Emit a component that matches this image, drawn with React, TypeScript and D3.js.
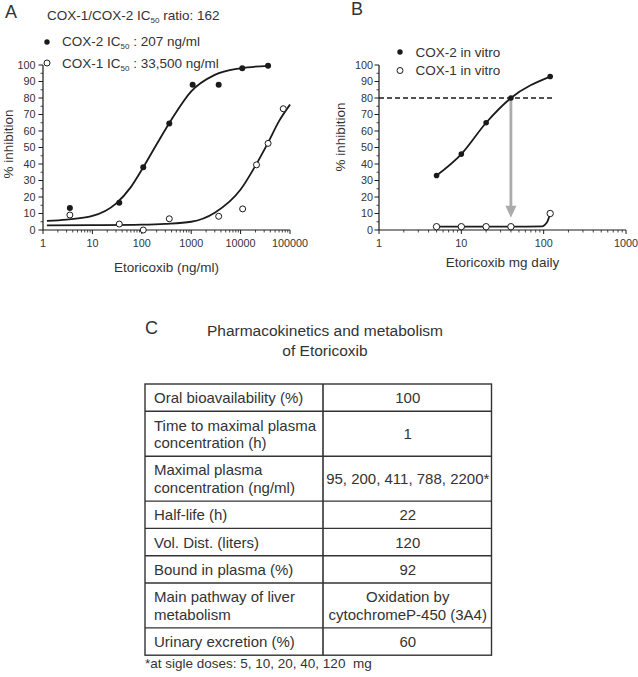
import React from "react";
import * as d3 from "d3";

// ---------- Data ----------
// Panel A (in vitro, ng/ml)
const cox2A_x = [3.5, 35, 107, 360, 1070, 3600, 10800, 36000];
const cox2A_y = [13.3, 16.5, 38, 64.5, 88, 88, 98, 99.5];
const cox1A_x = [3.5, 35, 107, 360, 3600, 11000, 21000, 36000, 73000];
const cox1A_y = [9.1, 3.6, 0, 6.8, 8.3, 12.8, 39.5, 52.5, 73.5];
// fitted curves
const cox2A_curve: [number, number][] = [
  [1.2, 5.5], [3, 6.3], [10, 8.5], [30, 16], [60, 26], [100, 36.5], [200, 52],
  [400, 67], [1000, 84], [3000, 94], [10000, 98], [36000, 99.5],
];
const cox1A_curve: [number, number][] = [
  [1.2, 2.8], [10, 2.9], [100, 3.2], [300, 3.7], [1000, 5], [3000, 10.5],
  [10000, 24.5], [20000, 39], [36000, 53], [60000, 66], [100000, 76],
];
// Panel B (mg daily)
const dosesB = [5, 10, 20, 40, 120];
const cox2B = [33, 46, 65, 80, 93];
const cox1B = [2, 2, 2, 2, 10];
const cox1B_curve: [number, number][] = [
  [5, 2], [10, 2], [20, 2], [40, 2], [96, 2.2], [104, 3.2], [112, 5.6], [120, 10],
];
const thresholdB = 80;
const arrowDoseB = 40;
const yTicks = [0, 10, 20, 30, 40, 50, 60, 70, 80, 90, 100];
const xTicksA = [1, 10, 100, 1000, 10000, 100000];
const xTicksB = [1, 10, 100, 1000];

// Panel C table
const tableLabels = [
  ["Oral bioavailability (%)"],
  ["Time to maximal plasma", "concentration (h)"],
  ["Maximal plasma", "concentration (ng/ml)"],
  ["Half-life (h)"],
  ["Vol. Dist. (liters)"],
  ["Bound in plasma (%)"],
  ["Main pathway of liver", "metabolism"],
  ["Urinary excretion (%)"],
];
const tableValues = [
  ["100"],
  ["1"],
  ["95, 200, 411, 788, 2200*"],
  ["22"],
  ["120"],
  ["92"],
  ["Oxidation by", "cytochromeP-450 (3A4)"],
  ["60"],
];

const FONT = "'Liberation Sans', Arial, Helvetica, sans-serif";
const INK = "#1a1a1a";

function minorTicks(lo: number, hi: number): number[] {
  const out: number[] = [];
  for (let d = lo; d < hi; d *= 10) {
    for (let k = 2; k <= 9; k++) out.push(d * k);
  }
  return out;
}

function Panel(props: {
  x: d3.ScaleLogarithmic<number, number>;
  y: d3.ScaleLinear<number, number>;
  xTicks: number[];
  labelRight: number;
  yLabelX: number;
  yLabelY: number;
  xLabel: string;
  xLabelY: number;
}) {
  const { x, y, xTicks } = props;
  const [x0, x1] = x.range();
  const y0 = y(0);
  const minors = minorTicks(xTicks[0], xTicks[xTicks.length - 1]);
  const yMinor = d3.range(5, 100, 10);
  return (
    <g>
      <line x1={x0} x2={x0} y1={y(0)} y2={y(100)} stroke={INK} strokeWidth={1.2} />
      <line x1={x0} x2={x1} y1={y0} y2={y0} stroke={INK} strokeWidth={1.2} />
      {yTicks.map((t) => (
        <g key={"y" + t}>
          <line x1={x0 - 4.5} x2={x0} y1={y(t)} y2={y(t)} stroke={INK} strokeWidth={1} />
          <text x={props.labelRight} y={y(t) + 3.8} textAnchor="end" fontSize={10.8} fill="#333" fontFamily={FONT}>
            {t}
          </text>
        </g>
      ))}
      {yMinor.map((t) => (
        <line key={"ym" + t} x1={x0 - 2.5} x2={x0} y1={y(t)} y2={y(t)} stroke={INK} strokeWidth={0.8} />
      ))}
      {xTicks.map((t) => (
        <g key={"x" + t}>
          <line x1={x(t)} x2={x(t)} y1={y0} y2={y0 + 4} stroke={INK} strokeWidth={1} />
          <text x={x(t)} y={y0 + 17} textAnchor="middle" fontSize={10.8} fill="#333" fontFamily={FONT}>
            {t}
          </text>
        </g>
      ))}
      {minors.map((t) => (
        <line key={"xm" + t} x1={x(t)} x2={x(t)} y1={y0} y2={y0 + 2.5} stroke={INK} strokeWidth={0.8} />
      ))}
      <text
        transform={`translate(${props.yLabelX},${props.yLabelY}) rotate(-90)`}
        textAnchor="middle"
        fontSize={13.5}
        fill="#333"
        fontFamily={FONT}
      >
        % inhibition
      </text>
      <text x={(x0 + x1) / 2} y={props.xLabelY} textAnchor="middle" fontSize={13.5} fill="#333" fontFamily={FONT}>
        {props.xLabel}
      </text>
    </g>
  );
}

function Sub(props: { pre: string; post: string; x: number; y: number }) {
  return (
    <text x={props.x} y={props.y} fontSize={13.5} fill="#333" fontFamily={FONT}>
      {props.pre}
      <tspan fontSize={8} dy={3}>50</tspan>
      <tspan dy={-3}>{props.post}</tspan>
    </text>
  );
}

export default function App() {
  const yA = d3.scaleLinear().domain([0, 100]).range([230, 65]);
  const xA = d3.scaleLog().domain([1, 100000]).range([43, 290]);
  const xB = d3.scaleLog().domain([1, 1000]).range([379, 626]);
  const yB = yA;

  const lineA = d3
    .line<[number, number]>()
    .x((d) => xA(d[0]))
    .y((d) => yA(d[1]))
    .curve(d3.curveMonotoneX);
  const lineB = d3
    .line<[number, number]>()
    .x((d) => xB(d[0]))
    .y((d) => yB(d[1]))
    .curve(d3.curveMonotoneX);

  const cox2Bpts: [number, number][] = dosesB.map((d, i) => [d, cox2B[i]]);

  // table layout
  const tLeft = 145, tRight = 491.5, tMid = 323, tTop = 384;
  const rowH = (n: number) => (n > 1 ? 44.9 : 27.3);
  let acc = tTop;
  const rows = tableLabels.map((lab, i) => {
    const n = Math.max(lab.length, tableValues[i].length);
    const top = acc;
    const h = rowH(n);
    acc += h;
    return { top, h, lab, val: tableValues[i] };
  });
  const tBottom = acc;

  const lines = (arr: string[], cx: number, top: number, h: number, anchor: "start" | "middle") => {
    const c = top + h / 2;
    return arr.map((s, j) => (
      <text
        key={j}
        x={cx}
        y={c + 5.5 + (j - (arr.length - 1) / 2) * 17.5}
        textAnchor={anchor}
        fontSize={15}
        fill="#333"
        fontFamily={FONT}
      >
        {s}
      </text>
    ));
  };

  const arrowX = xB(arrowDoseB);
  const arrowTop = yB(thresholdB) + 2;
  const arrowTip = yB(7.5);

  return (
    <svg
      width={638}
      height={677}
      style={{ position: "absolute", left: 0, top: 0, background: "#fff" }}
      fontFamily={FONT}
    >
      <rect width={638} height={677} fill="#fff" />
      {/* Panel A */}
      <text x={5} y={18} fontSize={18} fill="#333">A</text>
      <Sub pre="COX-1/COX-2 IC" post=" ratio: 162" x={47} y={19.5} />
      <circle cx={47} cy={42} r={2.7} fill={INK} />
      <Sub pre="COX-2 IC" post=" : 207 ng/ml" x={62} y={46} />
      <circle cx={47} cy={63} r={3} fill="#fff" stroke={INK} strokeWidth={1} />
      <Sub pre="COX-1 IC" post=" : 33,500 ng/ml" x={62} y={68} />
      <Panel x={xA} y={yA} xTicks={xTicksA} labelRight={35.5} yLabelX={13} yLabelY={144} xLabel="Etoricoxib (ng/ml)" xLabelY={271.5} />
      <path d={lineA(cox2A_curve) || ""} fill="none" stroke={INK} strokeWidth={1.8} />
      <path d={lineA(cox1A_curve) || ""} fill="none" stroke={INK} strokeWidth={1.8} />
      {cox2A_x.map((v, i) => (
        <circle key={"a2" + i} cx={xA(v)} cy={yA(cox2A_y[i])} r={3} fill={INK} />
      ))}
      {cox1A_x.map((v, i) => (
        <circle key={"a1" + i} cx={xA(v)} cy={yA(cox1A_y[i])} r={3} fill="#fff" stroke={INK} strokeWidth={1} />
      ))}

      {/* Panel B */}
      <text x={351} y={15} fontSize={18} fill="#333">B</text>
      <circle cx={400} cy={52} r={2.7} fill={INK} />
      <text x={415.5} y={56.5} fontSize={13.5} fill="#333">COX-2 in vitro</text>
      <circle cx={400} cy={70.5} r={3} fill="#fff" stroke={INK} strokeWidth={1} />
      <text x={415.5} y={75} fontSize={13.5} fill="#333">COX-1 in vitro</text>
      <Panel x={xB} y={yB} xTicks={xTicksB} labelRight={373} yLabelX={345} yLabelY={137} xLabel="Etoricoxib mg daily" xLabelY={266.5} />
      <line x1={xB(1)} x2={553} y1={yB(thresholdB)} y2={yB(thresholdB)} stroke={INK} strokeWidth={1.6} strokeDasharray="5,3" />
      <line x1={arrowX} x2={arrowX} y1={arrowTop} y2={arrowTip - 10} stroke="#ababab" strokeWidth={2.8} />
      <path
        d={`M${arrowX - 5.5},${arrowTip - 12} L${arrowX + 5.5},${arrowTip - 12} L${arrowX},${arrowTip} Z`}
        fill="#ababab"
      />
      <path d={lineB(cox2Bpts) || ""} fill="none" stroke={INK} strokeWidth={1.8} />
      <path d={lineB(cox1B_curve) || ""} fill="none" stroke={INK} strokeWidth={1.8} />
      {dosesB.map((d, i) => (
        <circle key={"b2" + i} cx={xB(d)} cy={yB(cox2B[i])} r={2.8} fill={INK} />
      ))}
      {dosesB.map((d, i) => (
        <circle key={"b1" + i} cx={xB(d)} cy={yB(cox1B[i])} r={3.2} fill="#fff" stroke={INK} strokeWidth={1} />
      ))}

      {/* Panel C */}
      <text x={145} y={334} fontSize={18} fill="#333">C</text>
      <text x={325} y={336} textAnchor="middle" fontSize={15.5} fill="#333">Pharmacokinetics and metabolism</text>
      <text x={325} y={355.5} textAnchor="middle" fontSize={15.5} fill="#333">of Etoricoxib</text>
      <rect x={tLeft} y={tTop} width={tRight - tLeft} height={tBottom - tTop} fill="none" stroke="#333" strokeWidth={1.4} />
      <line x1={tMid} x2={tMid} y1={tTop} y2={tBottom} stroke="#333" strokeWidth={1.6} />
      {rows.slice(1).map((r, i) => (
        <line key={"rl" + i} x1={tLeft} x2={tRight} y1={r.top} y2={r.top} stroke="#333" strokeWidth={1.4} />
      ))}
      {rows.map((r, i) => (
        <g key={"row" + i}>
          {lines(r.lab, 154, r.top, r.h, "start")}
          {lines(r.val, (tMid + tRight) / 2 + 0.5, r.top, r.h, "middle")}
        </g>
      ))}
      <text x={145} y={668} fontSize={13.5} fill="#333" style={{ whiteSpace: "pre" }}>
        {"*at sigle doses: 5, 10, 20, 40, 120  mg"}
      </text>
    </svg>
  );
}
